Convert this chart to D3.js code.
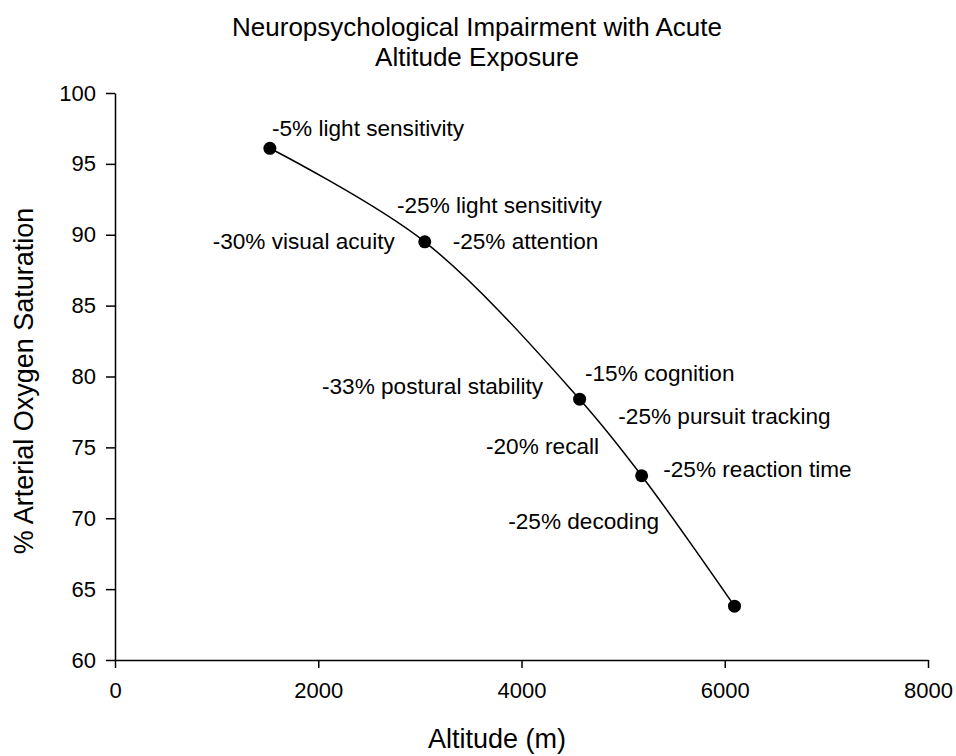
<!DOCTYPE html>
<html>
<head>
<meta charset="utf-8">
<script src="https://cdn.jsdelivr.net/npm/d3@7"></script>
<style>
	body { margin: 0; background: #fff; }
	text { font-family: Arial, "Liberation Sans", sans-serif; fill: #000; }
</style>
</head>
<body>
<div id="my_dataviz"></div>
<script>
// altitude (m) and arterial O2 saturation (%) of each exposure
const altitude = [1524, 3048, 4572, 5182, 6096];
const saturation = [96.1, 89.5, 78.4, 73.0, 63.8];

const xTicks = [0, 2000, 4000, 6000, 8000];
const yTicks = [60, 65, 70, 75, 80, 85, 90, 95, 100];

// annotation text and where it sits, in data units (altitude, saturation)
const noteText = [
	"-5% light sensitivity",
	"-25% light sensitivity",
	"-30% visual acuity",
	"-25% attention",
	"-33% postural stability",
	"-15% cognition",
	"-25% pursuit tracking",
	"-20% recall",
	"-25% reaction time",
	"-25% decoding",
];
const noteAlt = [1545, 2775, 961, 3323, 2037, 4625, 4953, 3651, 5395, 3870];
const noteSat = [96.94, 91.55, 89.01, 89.01, 78.79, 79.71, 76.65, 74.53, 72.88, 69.24];

function main() {
	const width = 956,
		height = 756;
	const margin = { top: 93, right: 28, bottom: 96, left: 115 };

	const svg = d3
		.select("#my_dataviz")
		.append("svg")
		.attr("width", width)
		.attr("height", height);

	const x = d3
		.scaleLinear()
		.domain([0, 8000])
		.range([margin.left, width - margin.right]);
	const y = d3
		.scaleLinear()
		.domain([60, 100])
		.range([height - margin.bottom, margin.top]);

	// x axis
	const xAxis = svg
		.append("g")
		.attr("transform", `translate(0,${y(60)})`)
		.call(
			d3.axisBottom(x)
				.tickValues(xTicks)
				.tickFormat(d3.format("d"))
				.tickSize(8)
				.tickSizeOuter(0)
				.tickPadding(14)
		);
	// y axis
	const yAxis = svg
		.append("g")
		.attr("transform", `translate(${x(0)},0)`)
		.call(d3.axisLeft(y).tickValues(yTicks).tickSize(9).tickSizeOuter(0).tickPadding(10));

	[xAxis, yAxis].forEach((g) => {
		g.select(".domain").attr("stroke", "#000").attr("stroke-width", 1.5);
		g.selectAll(".tick line").attr("stroke", "#000").attr("stroke-width", 1.5);
		g.selectAll(".tick text")
			.attr("fill", "#000")
			.style("font-size", "22px")
			.style("font-family", "Arial, 'Liberation Sans', sans-serif");
	});

	// title
	svg.append("text")
		.attr("x", 477)
		.attr("y", 36)
		.attr("text-anchor", "middle")
		.style("font-size", "26px")
		.text("Neuropsychological Impairment with Acute");
	svg.append("text")
		.attr("x", 477)
		.attr("y", 66)
		.attr("text-anchor", "middle")
		.style("font-size", "26px")
		.text("Altitude Exposure");

	// axis titles
	svg.append("text")
		.attr("x", 497)
		.attr("y", 748)
		.attr("text-anchor", "middle")
		.style("font-size", "27px")
		.text("Altitude (m)");
	svg.append("text")
		.attr("transform", "translate(33,381) rotate(-90)")
		.attr("text-anchor", "middle")
		.style("font-size", "27px")
		.text("% Arterial Oxygen Saturation");

	// smoothed line
	const points = altitude.map((a, i) => [a, saturation[i]]);
	const line = d3
		.line()
		.x((d) => x(d[0]))
		.y((d) => y(d[1]))
		.curve(d3.curveCatmullRom);
	svg.append("path")
		.datum(points)
		.attr("d", line)
		.attr("fill", "none")
		.attr("stroke", "#000")
		.attr("stroke-width", 1.5);

	svg.selectAll("circle.pt")
		.data(points)
		.join("circle")
		.attr("class", "pt")
		.attr("cx", (d) => x(d[0]))
		.attr("cy", (d) => y(d[1]))
		.attr("r", 6.5)
		.attr("fill", "#000");

	// annotations
	svg.selectAll("text.note")
		.data(noteText)
		.join("text")
		.attr("class", "note")
		.attr("x", (d, i) => x(noteAlt[i]))
		.attr("y", (d, i) => y(noteSat[i]))
		.style("font-size", "22.6px")
		.text((d) => d);
}

main();
</script>
</body>
</html>
